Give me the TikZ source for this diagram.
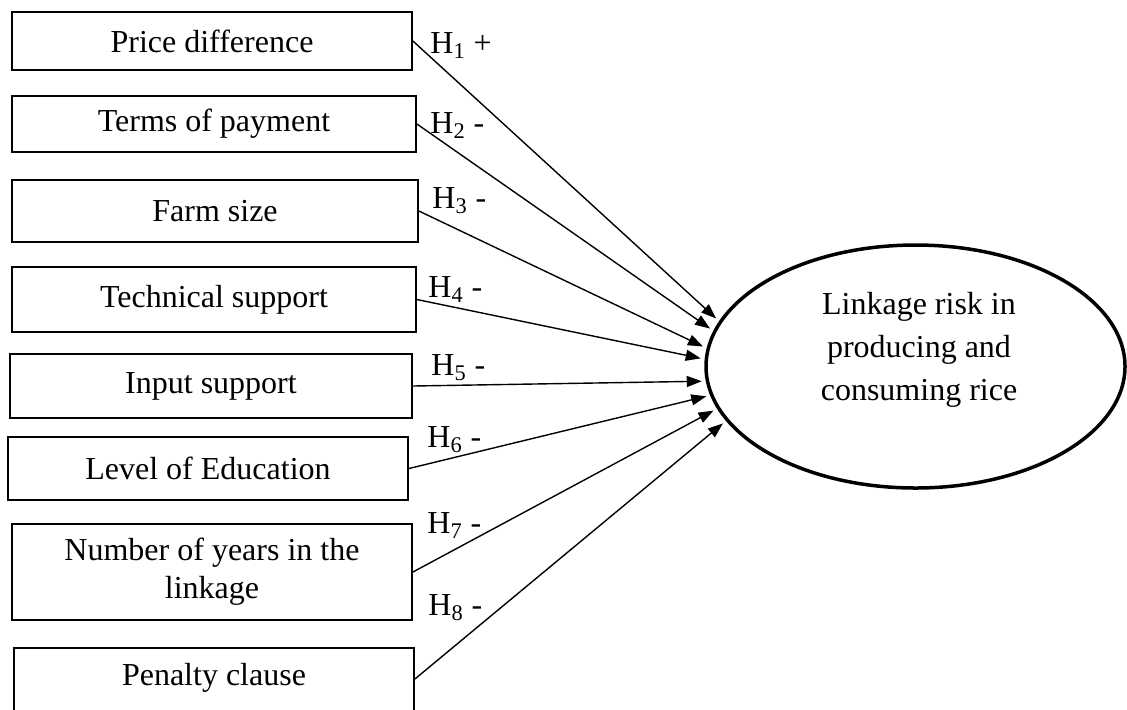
\documentclass[tikz,border=0pt]{standalone}
\usepackage{fontspec}
\setmainfont{Liberation Serif}
\usetikzlibrary{arrows.meta, shapes.geometric}

\begin{document}
\begin{tikzpicture}[
  x=0.5pt, y=-0.5pt,
  factor/.style={rectangle, draw, line width=0.9pt, minimum width=200pt, inner sep=0pt, align=center, font=\fontsize{16}{19}\selectfont},
  outcome/.style={ellipse, draw, line width=1.75pt, minimum width=209.5pt, minimum height=121.5pt, inner sep=0pt},
  edge/.style={-{Triangle[length=7.5pt,width=5.5pt]}, line width=0.7pt, shorten >=2pt},
  hyp/.style={anchor=base west, inner sep=0pt, font=\fontsize{16}{19}\selectfont}
]
\useasboundingbox (0,0) rectangle (1127,709);

\node[factor, minimum height=29pt] (1) at (212,41) {Price difference};
\node[factor, minimum height=28pt, minimum width=202pt] (2) at (214,124) {Terms of payment};
\node[factor, minimum height=31pt, minimum width=203pt] (3) at (215,211) {Farm size};
\node[factor, minimum height=32.5pt, minimum width=202pt] (4) at (214,299.5) {Technical support};
\node[factor, minimum height=32pt, minimum width=201pt] (5) at (211,386) {Input support};
\node[factor, minimum height=31.5pt] (6) at (208,468.5) {Level of Education};
\node[factor, minimum height=48pt] (7) at (212,572) {Number of years in the\\linkage};
% runs past the lower edge of the page, as in the source figure
\node[factor, minimum height=38pt, text depth=11.5pt] (8) at (214,686) {Penalty clause};

\node[outcome] (risk) at (915.5,366.5) {};
\node[align=center, font=\fontsize{16}{21.5}\selectfont] (risktext) at (919,350) {Linkage risk in\\producing and\\consuming rice};

\node[hyp] (h1) at (430,53) {H\textsubscript{1} +};
\node[hyp] (h2) at (430,133) {H\textsubscript{2} -};
\node[hyp] (h3) at (432,208) {H\textsubscript{3} -};
\node[hyp] (h4) at (428,297) {H\textsubscript{4} -};
\node[hyp] (h5) at (431,375) {H\textsubscript{5} -};
\node[hyp] (h6) at (427,447) {H\textsubscript{6} -};
\node[hyp] (h7) at (427,533) {H\textsubscript{7} -};
\node[hyp] (h8) at (428,615) {H\textsubscript{8} -};

\draw[edge] (1.east) -- (risk.167);
\draw[edge] (2.east) -- (risk.170.6);
\draw[edge] (3.east) -- (risk.175.3);
\draw[edge] (4.east) -- (risk.178.8);
\draw[edge] (5.east) -- (risk.184.5);
\draw[edge] (6.east) -- (risk.188.6);
\draw[edge] (7.east) -- (risk.192.5);
\draw[edge] (8.2.6) -- (risk.196.3);
\end{tikzpicture}
\end{document}
